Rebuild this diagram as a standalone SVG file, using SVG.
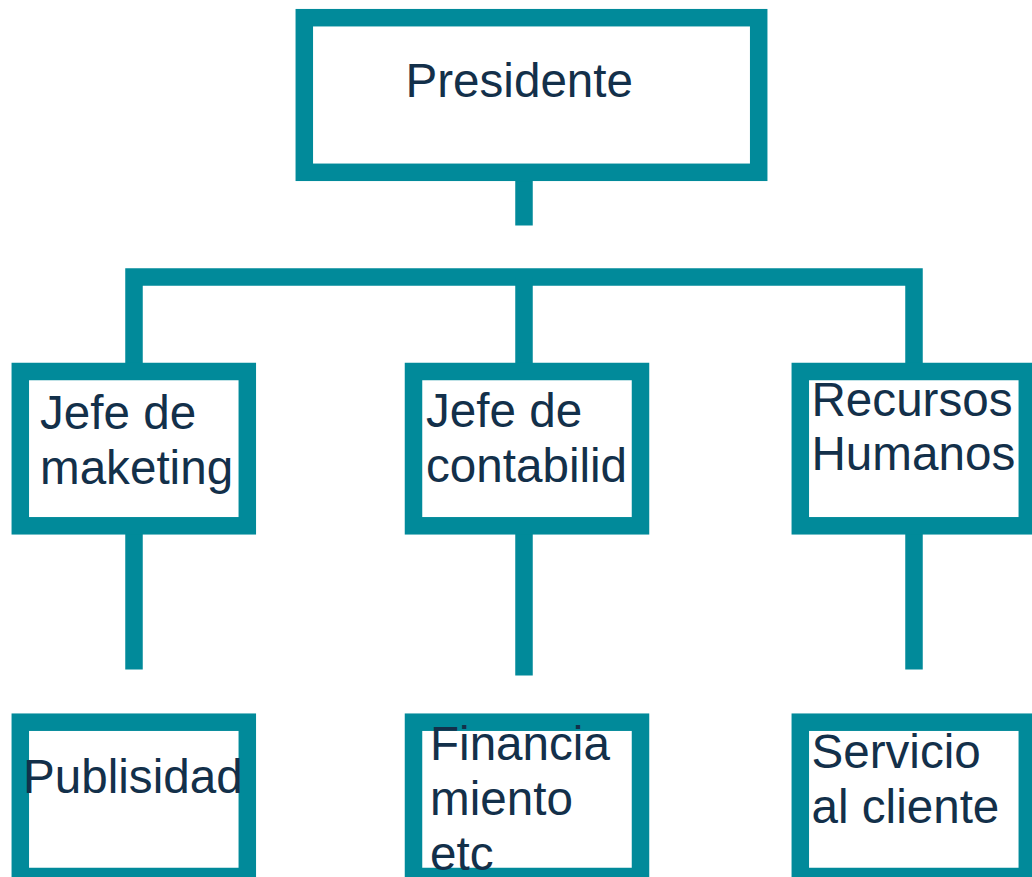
<svg xmlns="http://www.w3.org/2000/svg" width="1032" height="877" viewBox="0 0 1032 877">
<style>
.box{fill:#ffffff;stroke:#018a9a;stroke-width:17.5}
.con{fill:none;stroke:#018a9a;stroke-width:17.5;stroke-linecap:butt;stroke-linejoin:miter}
.t{font-family:"Liberation Sans",Arial,sans-serif;font-size:47.6px;fill:#13304a}
</style>
<rect width="1032" height="877" fill="#ffffff"/>
<g id="connectors">
<line class="con" x1="524" y1="181" x2="524" y2="225.5"/>
<polyline class="con" points="134,363 134,277 914,277 914,363"/>
<line class="con" x1="524" y1="277" x2="524" y2="363"/>
<line class="con" x1="134" y1="534" x2="134" y2="669.5"/>
<line class="con" x1="524" y1="534" x2="524" y2="675.5"/>
<line class="con" x1="914" y1="534" x2="914" y2="669.5"/>
</g>
<g id="presidente">
<rect class="box" x="304.3" y="17.7" width="454.4" height="154.6"/>
<text class="t" x="405.5" y="97">Presidente</text>
</g>
<g id="jefe-marketing">
<rect class="box" x="20.3" y="371.5" width="227" height="154.3"/>
<text class="t" x="40" y="429">Jefe de</text>
<text class="t" x="40" y="484">maketing</text>
</g>
<g id="jefe-contabilidad">
<rect class="box" x="413.5" y="371.5" width="227" height="154.3"/>
<text class="t" x="426" y="427">Jefe de</text>
<text class="t" x="426" y="482">contabilid</text>
</g>
<g id="recursos-humanos">
<rect class="box" x="800.3" y="371.5" width="227" height="154.3"/>
<text class="t" x="811.5" y="416">Recursos</text>
<text class="t" x="811.5" y="470">Humanos</text>
</g>
<g id="publisidad">
<rect class="box" x="20.3" y="722.2" width="227" height="154.3"/>
<text class="t" x="23" y="793">Publisidad</text>
</g>
<g id="financiamiento">
<rect class="box" x="413.5" y="722.2" width="227" height="154.3"/>
<text class="t" x="430" y="760">Financia</text>
<text class="t" x="430" y="815">miento</text>
<text class="t" x="430" y="870">etc</text>
</g>
<g id="servicio-cliente">
<rect class="box" x="800.3" y="722.2" width="227" height="154.3"/>
<text class="t" x="811.5" y="768">Servicio</text>
<text class="t" x="811.5" y="823">al cliente</text>
</g>
</svg>
